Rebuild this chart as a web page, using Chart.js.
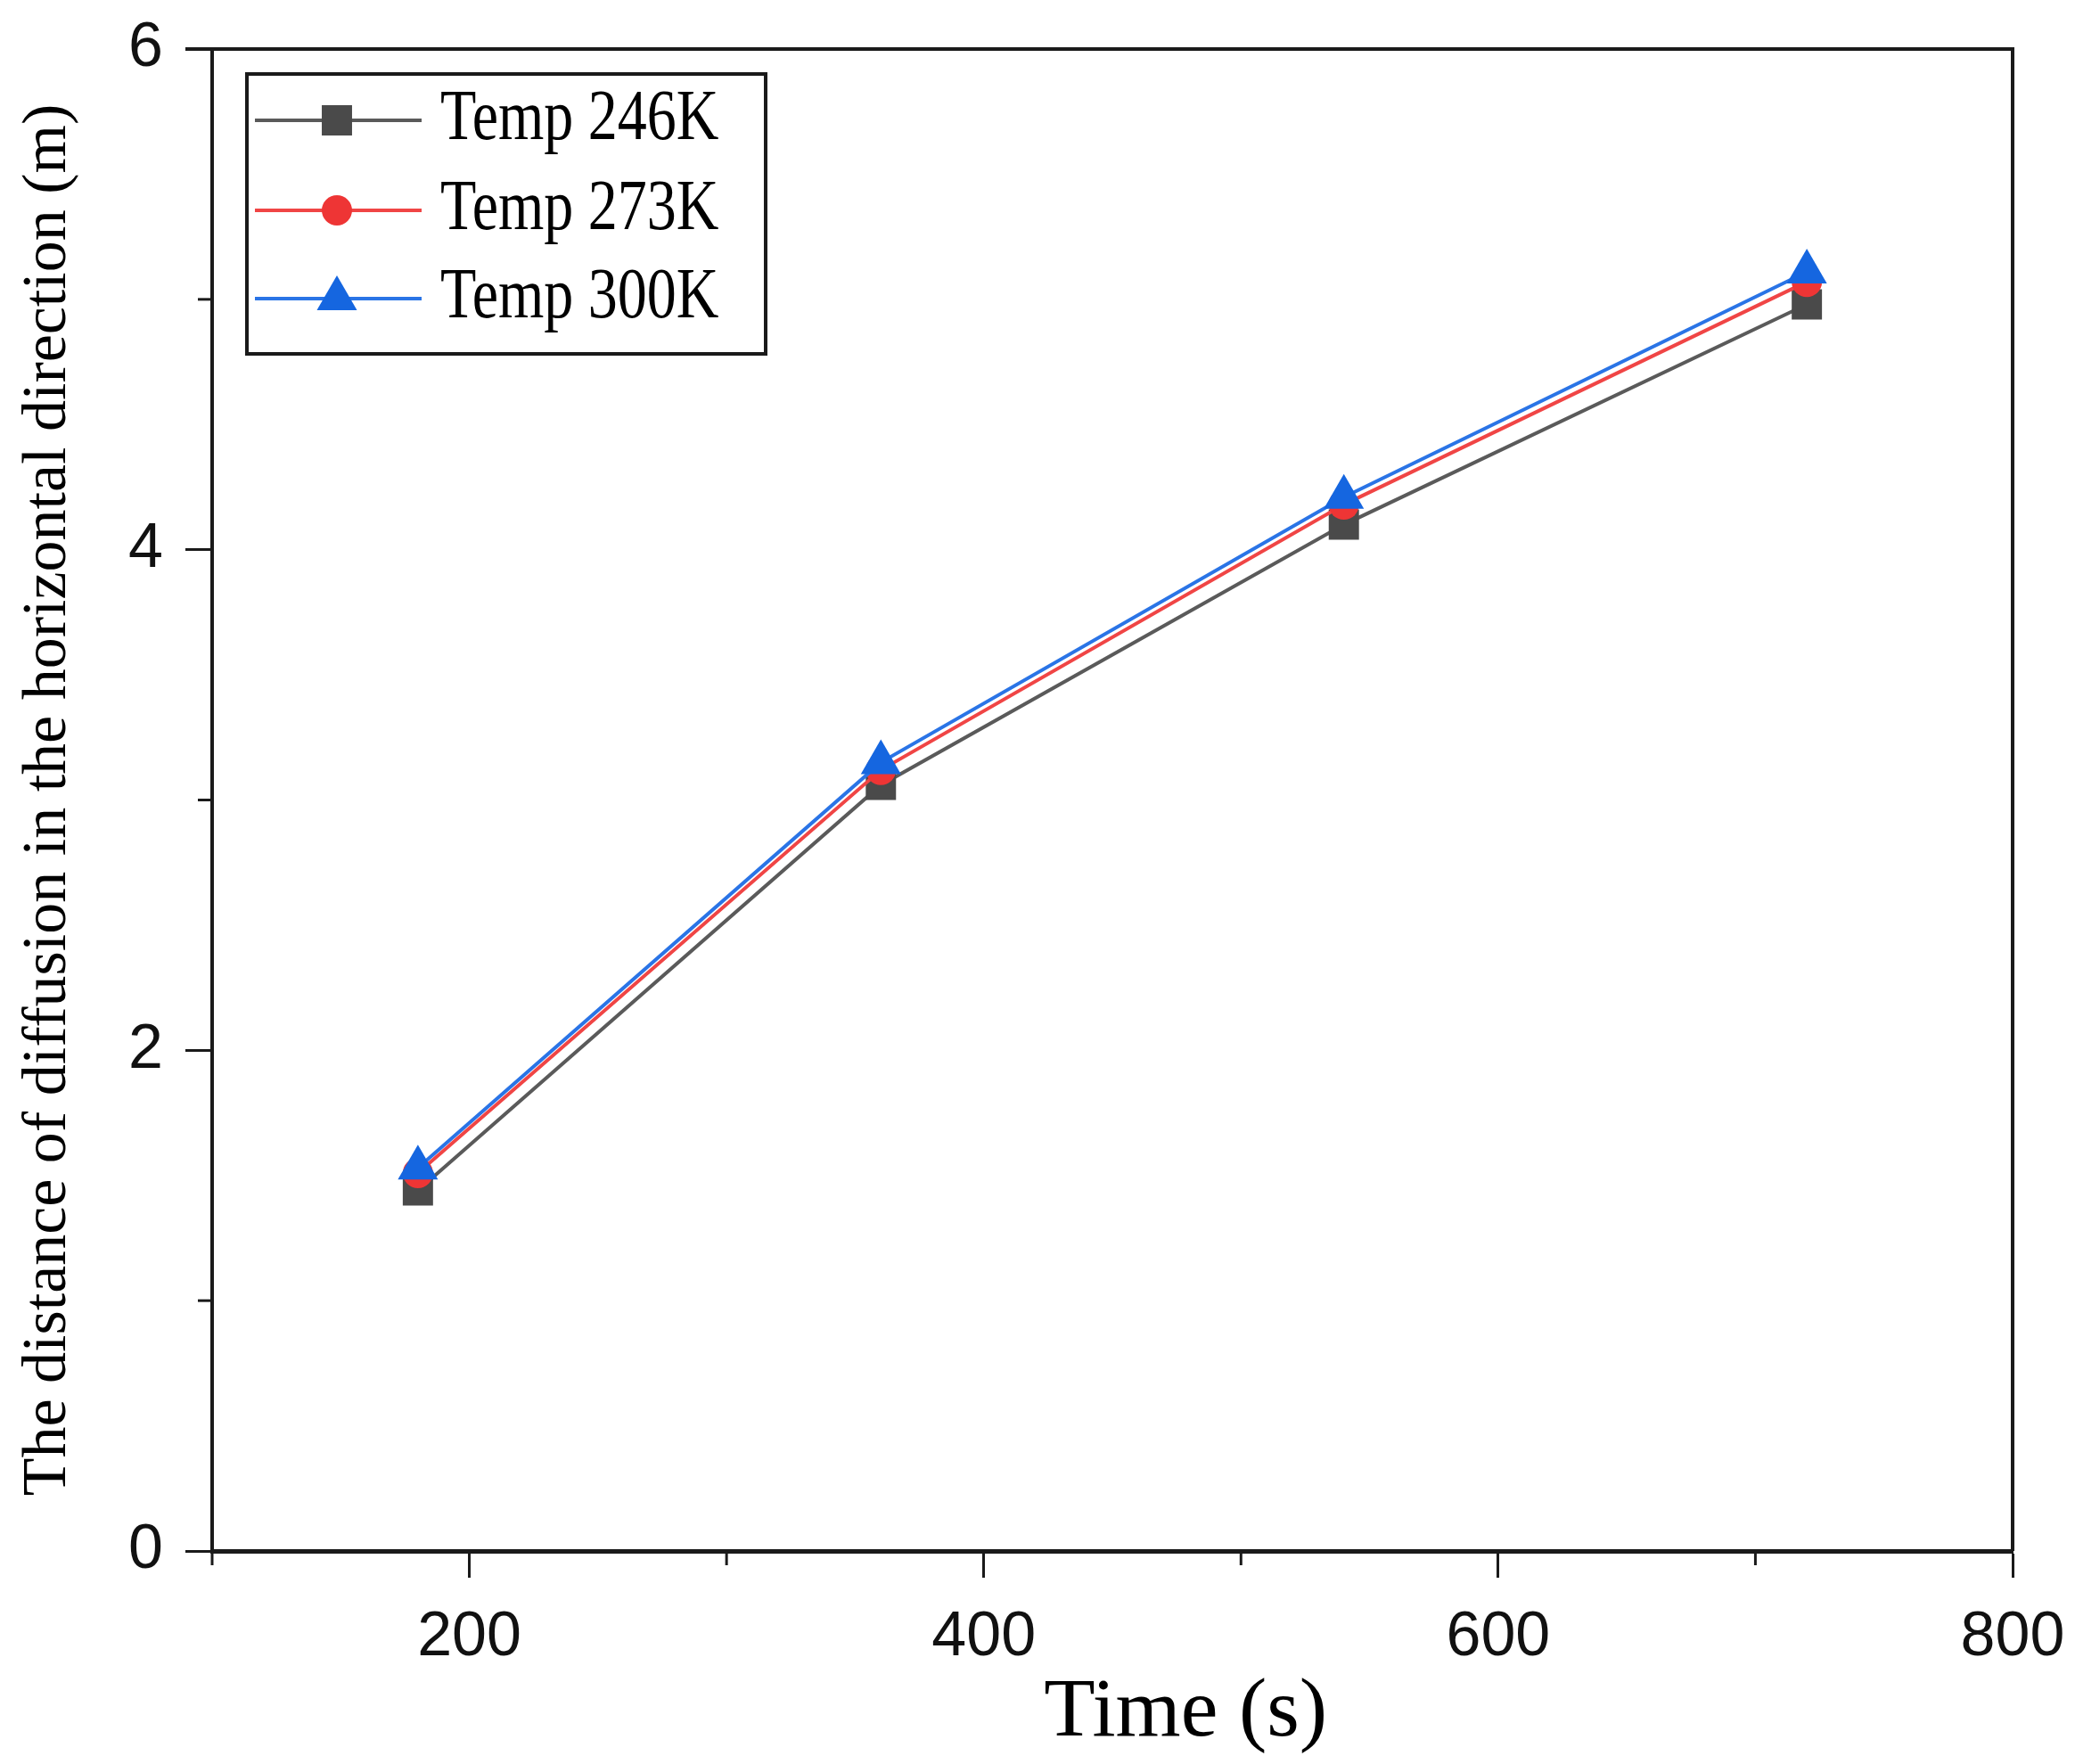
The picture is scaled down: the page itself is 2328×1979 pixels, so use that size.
<!DOCTYPE html>
<html>
<head>
<meta charset="utf-8">
<script src="https://cdn.jsdelivr.net/npm/chart.js@4.4.1/dist/chart.umd.min.js"></script>
<style>
html,body{margin:0;padding:0;background:#fff;}
canvas{display:block;}
</style>
</head>
<body>
<canvas id="c" width="2328" height="1979"></canvas>
<script>
// ---- data ----
const times = [180, 360, 540, 720];
const temp246 = [1.44, 3.06, 4.10, 4.98];
const temp273 = [1.51, 3.12, 4.18, 5.07];
const temp300 = [1.53, 3.15, 4.21, 5.11];
const seriesLabels = ['Temp 246K', 'Temp 273K', 'Temp 300K'];
const xMajorTicks = [200, 400, 600, 800];
const yMajorTicks = [0, 2, 4, 6];
const xTitle = '       Time (s)';
const yTitle = 'The distance of diffusion in the horizontal direction (m)';

const AX = '#1a1a1a';

function pts(arr){ return times.map((t,i)=>({x:t,y:arr[i]})); }

const minorTicks = {
  id:'minorTicks',
  afterDraw(chart){
    const ctx = chart.ctx, ca = chart.chartArea;
    const xs = chart.scales.x, ys = chart.scales.y;
    ctx.save();
    ctx.strokeStyle = AX;
    ctx.lineWidth = 4;
    ctx.beginPath();
    ctx.moveTo(ca.left - 30, ca.top);
    ctx.lineTo(ca.right, ca.top);
    ctx.lineTo(ca.right, ca.bottom);
    ctx.stroke();
    ctx.lineWidth = 3;
    for (let v = xs.min; v <= xs.max; v += 100) {
      if (xMajorTicks.includes(v)) continue;
      const px = xs.getPixelForValue(v);
      ctx.beginPath(); ctx.moveTo(px, ca.bottom); ctx.lineTo(px, ca.bottom + 16); ctx.stroke();
    }
    for (let v = ys.min; v <= ys.max; v += 1) {
      if (yMajorTicks.includes(v)) continue;
      const py = ys.getPixelForValue(v);
      ctx.beginPath(); ctx.moveTo(ca.left, py); ctx.lineTo(ca.left - 16, py); ctx.stroke();
    }
    ctx.restore();
  }
};

const boxLegend = {
  id:'boxLegend',
  afterDraw(chart){
    const ctx = chart.ctx, ca = chart.chartArea;
    const bx = ca.left + 39, by = ca.top + 28, bw = 582, bh = 314;
    ctx.save();
    ctx.fillStyle = '#fff';
    ctx.fillRect(bx, by, bw, bh);
    ctx.strokeStyle = AX;
    ctx.lineWidth = 4;
    ctx.strokeRect(bx, by, bw, bh);
    const rows = [52, 153, 252];
    chart.data.datasets.forEach((ds, i) => {
      const y = by + rows[i];
      ctx.strokeStyle = ds.borderColor;
      ctx.lineWidth = 4;
      ctx.beginPath(); ctx.moveTo(bx + 9, y); ctx.lineTo(bx + 196, y); ctx.stroke();
      ctx.fillStyle = ds.pointBackgroundColor;
      ctx.strokeStyle = ds.pointBackgroundColor;
      Chart.helpers.drawPoint(ctx, {pointStyle: ds.pointStyle, radius: ds.pointRadius, rotation: 0, borderWidth: 0}, bx + 101, y);
      ctx.save();
      ctx.translate(bx + 217, y);
      ctx.scale(1, 1.22);
      ctx.fillStyle = '#000';
      ctx.font = '66px "Liberation Serif", "Times New Roman", serif';
      ctx.textBaseline = 'middle';
      ctx.textAlign = 'left';
      ctx.fillText(ds.label, 0, 0);
      ctx.restore();
    });
    ctx.restore();
  }
};

new Chart(document.getElementById('c'), {
  type: 'line',
  data: {
    datasets: [
      {label: seriesLabels[0], data: pts(temp246), borderColor: '#5a5a5a', borderWidth: 4,
       pointStyle: 'rect', pointRadius: 24, pointBackgroundColor: '#4a4a4a', pointBorderWidth: 0, order: 2},
      {label: seriesLabels[1], data: pts(temp273), borderColor: '#f04545', borderWidth: 4,
       pointStyle: 'circle', pointRadius: 17, pointBackgroundColor: '#ee3535', pointBorderWidth: 0, order: 1},
      {label: seriesLabels[2], data: pts(temp300), borderColor: '#2a74e6', borderWidth: 4,
       pointStyle: 'triangle', pointRadius: 26, pointBackgroundColor: '#1566e0', pointBorderWidth: 0, order: 0}
    ]
  },
  options: {
    responsive: false,
    devicePixelRatio: 1,
    animation: false,
    layout: {padding: {top: 55, right: 70, left: 0, bottom: 0}, autoPadding: false},
    plugins: {legend: {display: false}, tooltip: {enabled: false}},
    elements: {line: {tension: 0}},
    scales: {
      x: {
        type: 'linear', min: 100, max: 800,
        afterFit(s){ s.height = 239; },
        ticks: {stepSize: 100, autoSkip: false, maxRotation: 0, padding: 11,
          color: '#111', font: {family: '"Liberation Sans", Arial, sans-serif', size: 70, lineHeight: 1.63},
          callback: v => xMajorTicks.includes(v) ? String(v) : ''},
        grid: {drawOnChartArea: false, drawTicks: true, tickLength: 30, tickWidth: 3,
          tickColor: c => (c.tick && xMajorTicks.includes(c.tick.value)) ? AX : 'rgba(0,0,0,0)'},
        border: {display: true, color: AX, width: 5},
        title: {display: true, text: xTitle, color: '#000', padding: {top: 0, bottom: 0},
          font: {family: '"Liberation Serif", "Times New Roman", serif', size: 94}}
      },
      y: {
        type: 'linear', min: 0, max: 6,
        afterFit(s){ s.width = 238; },
        ticks: {stepSize: 1, autoSkip: false, padding: 25,
          color: '#111', font: {family: '"Liberation Sans", Arial, sans-serif', size: 70, lineHeight: 0.8},
          callback: v => yMajorTicks.includes(v) ? String(v) : ''},
        grid: {drawOnChartArea: false, drawTicks: true, tickLength: 30, tickWidth: 3,
          tickColor: c => (c.tick && yMajorTicks.includes(c.tick.value)) ? AX : 'rgba(0,0,0,0)'},
        border: {display: true, color: AX, width: 4},
        title: {display: true, text: yTitle, color: '#000', padding: {top: 13, bottom: 0},
          font: {family: '"Liberation Serif", "Times New Roman", serif', size: 70}}
      }
    }
  },
  plugins: [minorTicks, boxLegend]
});
</script>
</body>
</html>
